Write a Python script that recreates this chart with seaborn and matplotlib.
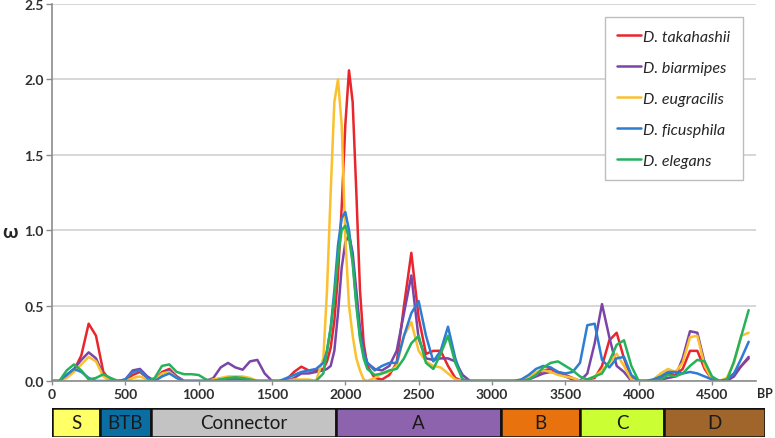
import matplotlib
matplotlib.use("Agg")
import matplotlib.pyplot as plt
import seaborn as sns
import pandas as pd

# window positions (bp) - finer step around the main peak
bp = list(range(0, 1850, 50)) + list(range(1850, 2150, 25)) + list(range(2150, 4800, 50))

species = ['D. takahashii', 'D. biarmipes', 'D. eugracilis', 'D. ficusphila', 'D. elegans']
colors = ['#e8262c', '#7b45a8', '#fbc02d', '#2d7dd2', '#25b25a']

takahashii = [0, 0, 0.03, 0.07, 0.17, 0.38, 0.30, 0.06, 0, 0,
              0, 0.04, 0.06, 0.02, 0, 0.06, 0.08, 0.03, 0, 0,
              0, 0, 0, 0.01, 0.02, 0.02, 0.02, 0.01, 0, 0,
              0, 0, 0.01, 0.06, 0.095, 0.07, 0.07,
              0.08, 0.13, 0.22, 0.4, 0.7, 1.15, 1.7, 2.06, 1.85, 1.25, 0.6, 0.25,
              0.1, 0.02, 0.01, 0.04, 0.12, 0.5, 0.85, 0.42, 0.18, 0.2,
              0.2, 0.1, 0.02, 0, 0, 0, 0, 0, 0, 0,
              0, 0, 0.01, 0.04, 0.07, 0.08, 0.06, 0.04, 0.02, 0,
              0.01, 0.02, 0.1, 0.27, 0.32, 0.15, 0.02, 0, 0, 0,
              0.02, 0.05, 0.04, 0.08, 0.2, 0.2, 0.08, 0.01, 0, 0.01,
              0.05, 0.1, 0.15]

biarmipes = [0, 0, 0.04, 0.08, 0.14, 0.19, 0.15, 0.04, 0, 0,
             0.01, 0.07, 0.08, 0.03, 0, 0.05, 0.07, 0.03, 0, 0,
             0, 0, 0.02, 0.09, 0.12, 0.09, 0.075, 0.13, 0.14, 0.05,
             0, 0, 0, 0.02, 0.05, 0.05, 0.06,
             0.07, 0.08, 0.1, 0.2, 0.45, 0.75, 0.92, 0.97, 0.85, 0.6, 0.35, 0.2,
             0.12, 0.08, 0.07, 0.1, 0.2, 0.45, 0.7, 0.28, 0.15, 0.14,
             0.15, 0.15, 0.13, 0.04, 0, 0, 0, 0, 0, 0,
             0, 0, 0.01, 0.03, 0.05, 0.06, 0.05, 0.03, 0.01, 0,
             0.05, 0.25, 0.51, 0.29, 0.1, 0.06, 0, 0, 0, 0,
             0.01, 0.02, 0.03, 0.15, 0.33, 0.32, 0.12, 0.02, 0, 0,
             0.03, 0.1, 0.16]

eugracilis = [0, 0, 0.02, 0.06, 0.11, 0.16, 0.13, 0.03, 0, 0,
              0, 0.02, 0.03, 0.01, 0, 0.05, 0.06, 0.02, 0, 0,
              0, 0, 0.01, 0.02, 0.03, 0.03, 0.03, 0.02, 0, 0,
              0, 0, 0, 0.01, 0.01, 0.01, 0,
              0.15, 0.6, 1.25, 1.85, 2.0, 1.7, 0.95, 0.5, 0.3, 0.15, 0.07, 0.01,
              0, 0.02, 0.05, 0.06, 0.1, 0.3, 0.39, 0.2, 0.13, 0.1,
              0.09, 0.05, 0.01, 0, 0, 0, 0, 0, 0, 0,
              0, 0.01, 0.03, 0.06, 0.07, 0.06, 0.04, 0.03, 0.02, 0,
              0.01, 0.03, 0.07, 0.12, 0.18, 0.1, 0.01, 0, 0, 0.01,
              0.05, 0.08, 0.06, 0.12, 0.29, 0.3, 0.1, 0.01, 0, 0.02,
              0.12, 0.3, 0.32]

ficusphila = [0, 0, 0.04, 0.08, 0.06, 0.02, 0, 0, 0, 0,
              0.01, 0.06, 0.07, 0.02, 0, 0.03, 0.05, 0.02, 0, 0,
              0, 0, 0, 0.01, 0.01, 0.01, 0.01, 0, 0, 0,
              0, 0, 0.02, 0.04, 0.06, 0.07, 0.08,
              0.12, 0.2, 0.35, 0.6, 0.9, 1.08, 1.12, 1.0, 0.8, 0.52, 0.3, 0.18,
              0.12, 0.07, 0.1, 0.12, 0.12, 0.3, 0.45, 0.53, 0.3, 0.13,
              0.2, 0.36, 0.15, 0.01, 0, 0, 0, 0, 0, 0,
              0, 0.01, 0.04, 0.08, 0.1, 0.09, 0.06, 0.05, 0.06, 0.12,
              0.37, 0.38, 0.14, 0.09, 0.15, 0.16, 0.04, 0, 0, 0.01,
              0.03, 0.06, 0.06, 0.05, 0.06, 0.05, 0.03, 0.01, 0, 0.01,
              0.05, 0.15, 0.26]

elegans = [0, 0, 0.07, 0.11, 0.07, 0.01, 0.02, 0.045, 0.02, 0,
           0, 0, 0, 0, 0.02, 0.1, 0.11, 0.06, 0.045, 0.045,
           0.04, 0.01, 0, 0.01, 0.02, 0.025, 0.02, 0.01, 0, 0,
           0, 0, 0, 0, 0, 0, 0,
           0.05, 0.2, 0.35, 0.55, 0.82, 1.0, 1.03, 0.95, 0.78, 0.5, 0.28, 0.15,
           0.08, 0.04, 0.05, 0.07, 0.08, 0.15, 0.25, 0.3, 0.12, 0.08,
           0.18, 0.3, 0.12, 0.01, 0, 0, 0, 0, 0, 0,
           0, 0, 0.01, 0.04, 0.09, 0.12, 0.13, 0.1, 0.07, 0.03,
           0.01, 0.03, 0.05, 0.13, 0.24, 0.27, 0.1, 0, 0, 0,
           0.01, 0.04, 0.03, 0.05, 0.1, 0.14, 0.13, 0.03, 0, 0,
           0.13, 0.3, 0.47]

# protein domains along the gene
domains = ['S', 'BTB', 'Connector', 'A', 'B', 'C', 'D']
domain_start = [0, 327, 675, 1936, 3061, 3600, 4173]
domain_end = [327, 675, 1936, 3061, 3600, 4173, 4861]
domain_colors = ['#ffff66', '#0a6ea3', '#c3c3c3', '#8d63ad', '#e8720e', '#ccff33', '#a0652b']

xticks = list(range(0, 5000, 500))
yticks = [0, 0.5, 1.0, 1.5, 2.0, 2.5]

rows = []
for name, vals in zip(species, [takahashii, biarmipes, eugracilis, ficusphila, elegans]):
    for x, v in zip(bp, vals):
        rows.append({'bp': x, 'omega': v, 'species': name})
df = pd.DataFrame(rows)

sns.set_style('white')
plt.rcParams['font.family'] = ['Lato', 'DejaVu Sans']

fig = plt.figure(figsize=(7.75, 4.39), dpi=100)
ax = fig.add_axes([52 / 775, 1 - 382 / 439, 704 / 775, 377 / 439])

sns.lineplot(data=df, x='bp', y='omega', hue='species', hue_order=species,
             palette=colors, linewidth=1.8, ax=ax)

ax.set_xlim(0, 4800)
ax.set_ylim(0, 2.5)
ax.set_xticks(xticks)
ax.set_xticklabels([str(t) for t in xticks], fontweight='bold')
ax.set_yticks(yticks)
ax.set_yticklabels([f'{t:.1f}' for t in yticks], fontweight='bold')
ax.grid(axis='y', color='#d4d4d4', linewidth=1.3)
ax.set_axisbelow(True)
for s in ['top', 'right']:
    ax.spines[s].set_visible(False)
for s in ['left', 'bottom']:
    ax.spines[s].set_color('#8c8c8c')
    ax.spines[s].set_linewidth(1.2)
ax.tick_params(axis='both', direction='out', length=4, width=1, color='#8c8c8c',
               labelsize=10, labelcolor='#303030', pad=2)
ax.tick_params(axis='x', bottom=True, length=3)
ax.tick_params(axis='y', left=True)
ax.set_xlabel('')
ax.set_ylabel('')
fig.text(10 / 775, 1 - 233 / 439, 'ω', fontsize=14, fontweight='bold', ha='center', va='center')
fig.text(765 / 775, 1 - 394 / 439, 'BP', fontsize=9, fontweight='bold', ha='center', va='center')

handles, labels = ax.get_legend_handles_labels()
leg = ax.legend(handles, labels, loc='upper left', bbox_to_anchor=(0.785, 0.966),
                frameon=True, fancybox=False, edgecolor='#bdbdbd', framealpha=1,
                prop={'style': 'italic', 'size': 11.5}, labelspacing=1.05,
                handlelength=1.5, handletextpad=0.1, borderpad=0.8, borderaxespad=0)
leg.get_frame().set_linewidth(1.0)

# domain bar below the axis
ax2 = fig.add_axes([52 / 775, 1 - 438 / 439, 713 / 775, 29 / 439])
widths = [e - s for s, e in zip(domain_start, domain_end)]
ax2.barh(0, widths, left=domain_start, height=1, color=domain_colors,
         edgecolor='#111111', linewidth=1.8)
for name, s, e in zip(domains, domain_start, domain_end):
    ax2.text((s + e) / 2, 0, name, ha='center', va='center', fontsize=13.5, color='#1a1a1a')
ax2.set_xlim(0, 4861)
ax2.set_ylim(-0.5, 0.5)
ax2.axis('off')

fig.savefig('out.png', dpi=100)
